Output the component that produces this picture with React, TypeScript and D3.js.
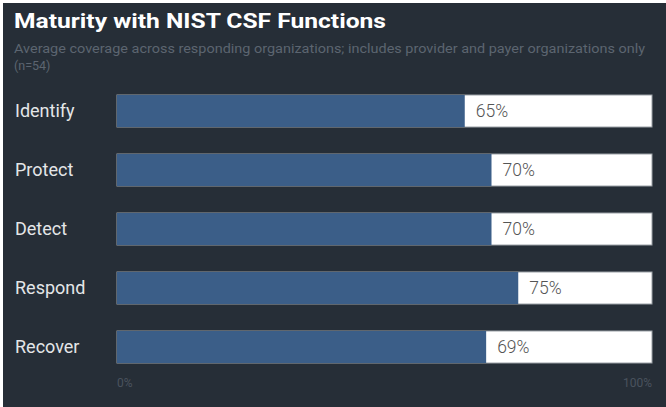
import React from 'react';
import * as d3 from 'd3';

const functions = ['Identify', 'Protect', 'Detect', 'Respond', 'Recover'];
const coverage = [65, 70, 70, 75, 69];
const axisTicks = [0, 100];

const W = 666;
const H = 407;
const FONT = "Roboto, 'Noto Sans', sans-serif";

export default function App() {
  const x = d3.scaleLinear().domain([0, 100]).range([117, 652]);
  const step = 59;
  const bh = 32;
  const y = d3
    .scaleBand<string>()
    .domain(functions)
    .range([95, 95 + step * functions.length - (step - bh)])
    .paddingInner((step - bh) / step)
    .paddingOuter(0);

  return (
    <svg
      width={W}
      height={H}
      style={{ position: 'absolute', left: 0, top: 0, display: 'block' }}
      fontFamily={FONT}
    >
      <rect width={W} height={H} fill="#ffffff" />
      <rect x={3} y={3} width={W - 3} height={H - 3} fill="#262e37" />

      <text x={14} y={28} fill="#ffffff" fontSize={21} fontWeight={700} textLength={372} lengthAdjust="spacingAndGlyphs">
        Maturity with NIST CSF Functions
      </text>
      <text x={14} y={53} fill="#5c6570" fontSize={12.5} textLength={631} lengthAdjust="spacingAndGlyphs">
        Average coverage across responding organizations; includes provider and payer organizations only
      </text>
      <text x={14} y={70} fill="#5c6570" fontSize={12.5}>
        (n=54)
      </text>

      {functions.map((f, i) => {
        const top = y(f) ?? 0;
        const v = coverage[i];
        return (
          <g key={f}>
            <text x={15} y={top + bh / 2} dy="0.36em" fill="#e4e6e8" fontSize={18}>
              {f}
            </text>
            <rect
              x={x(0)}
              y={top}
              width={x(100) - x(0)}
              height={bh}
              fill="#ffffff"
              stroke="#9aa0a6"
              strokeWidth={1}
            />
            <rect x={x(0)} y={top} width={x(v) - x(0)} height={bh} fill="#3b5e88" />
            <text x={x(v) + 11} y={top + bh / 2} dy="0.36em" fill="#555555" fontSize={17.5} fontWeight={300}>
              {`${v}%`}
            </text>
          </g>
        );
      })}

      {axisTicks.map((t) => (
        <text
          key={t}
          x={x(t)}
          y={387}
          textAnchor={t === 0 ? 'start' : 'end'}
          fill="#4a535e"
          fontSize={12}
        >
          {`${t}%`}
        </text>
      ))}
    </svg>
  );
}
